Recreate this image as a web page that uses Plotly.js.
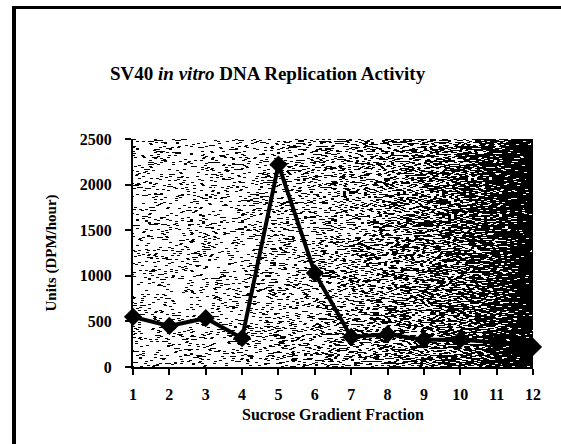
<!DOCTYPE html>
<html>
<head>
<meta charset="utf-8">
<script src="https://cdn.plot.ly/plotly-3.0.1.min.js"></script>
<style>
  html, body { margin: 0; padding: 0; background: #fff; overflow: hidden; }
  #chart { width: 561px; height: 444px; }
</style>
</head>
<body>
<div id="chart"></div>
<script>
// ---- data ----
const fractions = [1, 2, 3, 4, 5, 6, 7, 8, 9, 10, 11, 12];
const units = [550, 450, 535, 315, 2220, 1030, 330, 360, 300, 300, 270, 220];
const yTicks = [0, 500, 1000, 1500, 2000, 2500];
const titleText = 'SV40 <i>in vitro</i> DNA Replication Activity';
const xTitle = 'Sucrose Gradient Fraction';
const yTitle = 'Units (DPM/hour)';

// ---- scanned gradient background texture (decoration only) ----
function hash(a, b) {
  let h = (a * 374761393 + b * 668265263) | 0;
  h = Math.imul(h ^ (h >>> 13), 1274126177);
  h = h ^ (h >>> 16);
  return ((h >>> 0) % 10000) / 10000;
}
function makeBg(w, h) {
  const c = document.createElement('canvas');
  c.width = w; c.height = h;
  const ctx = c.getContext('2d');
  const img = ctx.createImageData(w, h);
  for (let y = 0; y < h; y++) {
    const off = Math.floor(hash(y, 7) * 4);
    for (let x = 0; x < w; x++) {
      const t = x / w;
      const dark = 0.14 + 0.86 * Math.pow(t, 2.6);
      const n = hash(Math.floor((x + off) / 3), y);
      const v = n < dark ? 0 : 255;
      const i = (y * w + x) * 4;
      img.data[i] = v; img.data[i + 1] = v; img.data[i + 2] = v; img.data[i + 3] = 255;
    }
  }
  ctx.putImageData(img, 0, 0);
  return c.toDataURL();
}

const serif = 'Liberation Serif, Times New Roman, serif';

const trace = {
  x: fractions,
  y: units,
  type: 'scatter',
  mode: 'lines+markers',
  line: { color: '#000', width: 4 },
  marker: { symbol: 'diamond', size: 14, color: '#000' },
  cliponaxis: false,
  hoverinfo: 'x+y'
};

// page frame (thick left and top rule of the scanned page), in paper units
const L = 133, T = 139, PW = 400, PH = 228;
const px = v => (v - L) / PW;
const py = v => (T + PH - v) / PH;

const layout = {
  width: 561,
  height: 444,
  margin: { l: L, r: 561 - L - PW, t: T, b: 444 - T - PH },
  paper_bgcolor: '#fff',
  plot_bgcolor: '#fff',
  showlegend: false,
  title: {
    text: titleText,
    font: { family: serif, size: 19, color: '#000', weight: 'bold' },
    xref: 'container', x: 0.477, xanchor: 'center',
    yref: 'container', y: 1 - 73 / 444, yanchor: 'middle'
  },
  xaxis: {
    range: [1, 12],
    tickvals: fractions,
    ticktext: fractions.map(String),
    showgrid: false,
    zeroline: false,
    showline: true,
    linecolor: '#000',
    linewidth: 2,
    ticks: 'outside',
    ticklen: 6,
    tickwidth: 2,
    tickcolor: '#000',
    ticklabelstandoff: 6,
    tickfont: { family: serif, size: 16, color: '#000', weight: 'bold' },
    title: { text: xTitle, standoff: 7,
             font: { family: serif, size: 16, color: '#000', weight: 'bold' } }
  },
  yaxis: {
    range: [0, 2500],
    tickvals: yTicks,
    ticktext: yTicks.map(String),
    showgrid: false,
    zeroline: false,
    showline: true,
    linecolor: '#000',
    linewidth: 2,
    ticks: 'outside',
    ticklen: 6,
    tickwidth: 2,
    tickcolor: '#000',
    ticklabelstandoff: 10,
    tickfont: { family: serif, size: 16, color: '#000', weight: 'bold' },
    title: { text: yTitle, standoff: 20,
             font: { family: serif, size: 15, color: '#000', weight: 'bold' } }
  },
  shapes: [
    { type: 'line', xref: 'paper', yref: 'paper',
      x0: px(14), x1: px(14), y0: py(6), y1: py(460),
      line: { color: '#000', width: 4 } },
    { type: 'line', xref: 'paper', yref: 'paper',
      x0: px(12), x1: px(580), y0: py(7.5), y1: py(7.5),
      line: { color: '#000', width: 3 } }
  ],
  images: [{
    source: makeBg(400, 228),
    xref: 'paper', yref: 'paper',
    x: 0, y: 1, sizex: 1, sizey: 1,
    xanchor: 'left', yanchor: 'top',
    sizing: 'stretch', layer: 'below'
  }]
};

Plotly.newPlot('chart', [trace], layout, { staticPlot: true, displayModeBar: false });
</script>
</body>
</html>
